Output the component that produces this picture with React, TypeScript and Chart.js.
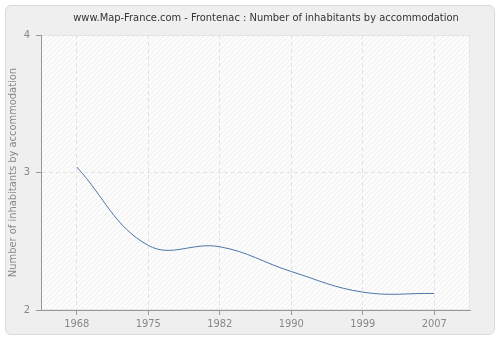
import { useEffect, useRef } from "react";
import { Chart, registerables } from "chart.js";

Chart.register(...registerables);

const chartTitle = "www.Map-France.com - Frontenac : Number of inhabitants by accommodation";
const yAxisTitle = "Number of inhabitants by accommodation";
const years = ["1968", "1975", "1982", "1990", "1999", "2007"];
const inhabitantsPerDwelling = [3.04, 2.47, 2.46, 2.28, 2.13, 2.12];
const yMin = 2;
const yMax = 4;
const yStep = 1;

const FONT = "'DejaVu Sans Condensed', 'DejaVu Sans', sans-serif";

const hatchPlugin = {
  id: "hatch",
  beforeDraw(chart: any) {
    const { ctx, chartArea } = chart;
    if (!chartArea) return;
    const p = document.createElement("canvas");
    p.width = 5;
    p.height = 5;
    const pc = p.getContext("2d")!;
    pc.fillStyle = "#fcfcfc";
    pc.fillRect(0, 0, 5, 5);
    pc.strokeStyle = "#efefef";
    pc.lineWidth = 1;
    pc.beginPath();
    pc.moveTo(-1, 6);
    pc.lineTo(6, -1);
    pc.stroke();
    const pattern = ctx.createPattern(p, "repeat");
    ctx.save();
    ctx.fillStyle = pattern;
    ctx.fillRect(chartArea.left, chartArea.top, chartArea.right - chartArea.left, chartArea.bottom - chartArea.top);
    ctx.strokeStyle = "#e6e6e6";
    ctx.lineWidth = 1;
    ctx.strokeRect(chartArea.left + 0.5, chartArea.top + 0.5, chartArea.right - chartArea.left - 1, chartArea.bottom - chartArea.top - 1);
    ctx.restore();
  },
};

const titlePlugin = {
  id: "customTitle",
  afterDraw(chart: any) {
    const { ctx } = chart;
    ctx.save();
    ctx.font = `11px ${FONT}`;
    ctx.fillStyle = "#333333";
    ctx.textAlign = "center";
    ctx.textBaseline = "middle";
    ctx.fillText(chartTitle, 266, 18);
    ctx.restore();
  },
};

export default function App() {
  const ref = useRef<HTMLCanvasElement | null>(null);
  useEffect(() => {
    if (!ref.current) return;
    const chart = new Chart(ref.current, {
      type: "line",
      data: {
        labels: years,
        datasets: [
          {
            data: inhabitantsPerDwelling,
            borderColor: "#4a76a8",
            borderWidth: 1,
            pointRadius: 0,
            tension: 0.4,
            fill: false,
          },
        ],
      },
      options: {
        responsive: false,
        animation: false,
        layout: { padding: { left: 0, right: 30, top: 35, bottom: 0 } },
        plugins: {
          legend: { display: false },
          tooltip: { enabled: false },
          title: { display: false },
        },
        scales: {
          x: {
            type: "category",
            offset: true,
            border: { display: true, color: "#999999", width: 1, dash: [4, 3] },
            grid: {
              display: true,
              offset: false,
              color: "#e2e2e2",
              tickColor: "#999999",
              tickLength: 5,
              drawOnChartArea: true,
            },
            ticks: {
              color: "#888888",
              font: { family: FONT, size: 11 },
              padding: 3,
              maxRotation: 0,
            },
            afterFit(scale: any) {
              scale.height = 30;
            },
          } as any,
          y: {
            min: yMin,
            max: yMax,
            border: { display: true, color: "#999999", width: 1, dash: [4, 3] },
            grid: {
              color: "#e2e2e2",
              tickColor: "#999999",
              tickLength: 5,
            },
            ticks: {
              stepSize: yStep,
              color: "#888888",
              font: { family: FONT, size: 11 },
              padding: 6,
            },
            title: {
              display: true,
              text: yAxisTitle,
              color: "#888888",
              font: { family: FONT, size: 11 },
              padding: { top: 7, bottom: 0 },
            },
            afterFit(scale: any) {
              scale.width = 41;
            },
          },
        },
      },
      plugins: [hatchPlugin, titlePlugin],
    });
    return () => chart.destroy();
  }, []);

  return (
    <div style={{ position: "fixed", left: 0, top: 0, width: 500, height: 340, background: "#ffffff" }}>
      <div
        style={{
          position: "absolute",
          left: 5,
          top: 5,
          width: 488,
          height: 328,
          background: "#efefef",
          border: "1px solid #dadada",
          borderRadius: 6,
        }}
      />
      <canvas ref={ref} width={500} height={340} style={{ position: "absolute", left: 0, top: 0 }} />
    </div>
  );
}
